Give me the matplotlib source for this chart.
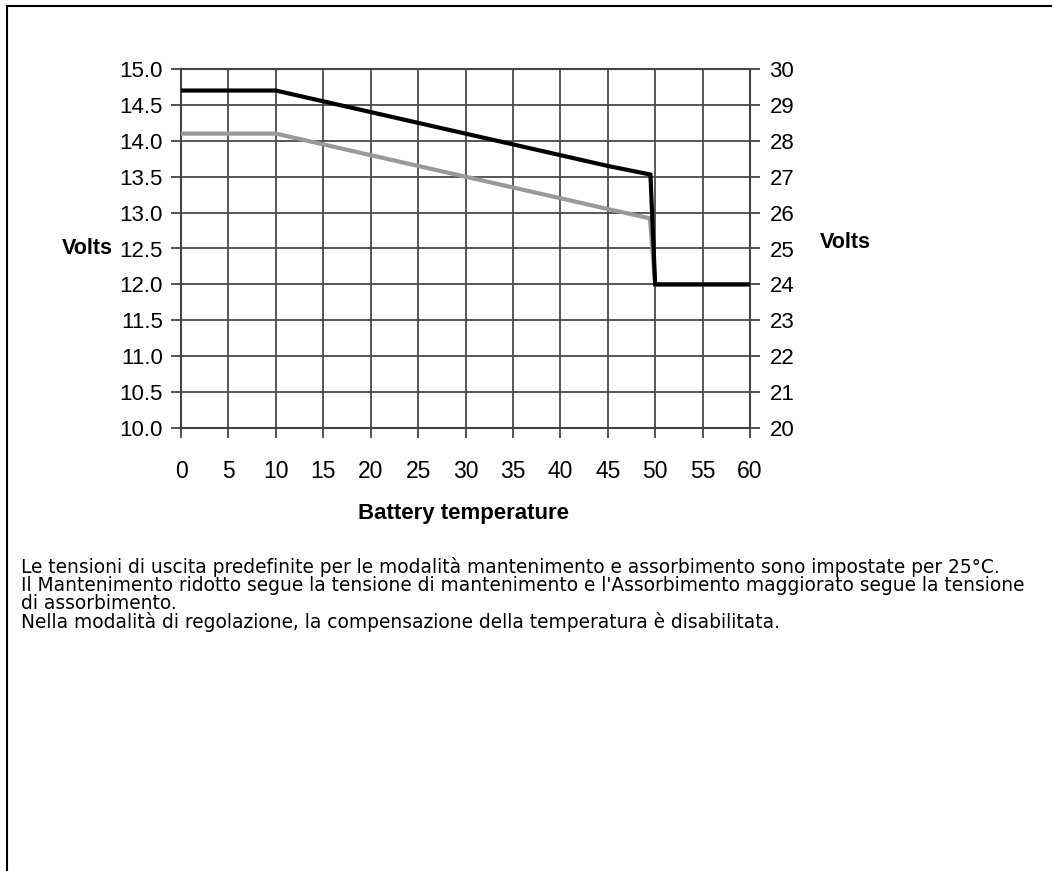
import matplotlib
matplotlib.use("Agg")
import matplotlib.pyplot as plt
from matplotlib.lines import Line2D

# ---- data ----
temp_abs = [0, 10, 15, 20, 25, 30, 35, 40, 45, 49.5, 50, 60]
volt_abs = [14.7, 14.7, 14.55, 14.4, 14.25, 14.1, 13.95, 13.8, 13.65, 13.53, 12.0, 12.0]
temp_float = [0, 10, 15, 20, 25, 30, 35, 40, 45, 49.45, 50, 60]
volt_float = [14.1, 14.1, 13.95, 13.8, 13.65, 13.5, 13.35, 13.2, 13.05, 12.92, 12.0, 12.0]
x_ticks = [0, 5, 10, 15, 20, 25, 30, 35, 40, 45, 50, 55, 60]
y_left_ticks = [10.0, 10.5, 11.0, 11.5, 12.0, 12.5, 13.0, 13.5, 14.0, 14.5, 15.0]
y_right_ticks = [20, 21, 22, 23, 24, 25, 26, 27, 28, 29, 30]
x_label = "Battery temperature"
y_label = "Volts"
notes = [
    "Le tensioni di uscita predefinite per le modalità mantenimento e assorbimento sono impostate per 25°C.",
    "Il Mantenimento ridotto segue la tensione di mantenimento e l'Assorbimento maggiorato segue la tensione",
    "di assorbimento.",
    "Nella modalità di regolazione, la compensazione della temperatura è disabilitata.",
]

plt.rcParams["font.family"] = ["Liberation Sans", "DejaVu Sans"]

W, H = 1052, 871
fig = plt.figure(figsize=(W / 100, H / 100), dpi=100)
fig.patch.set_facecolor("white")

def fx(px):
    return px / W

def fy(py):
    return 1 - py / H

L, R, T, B = 181, 750, 69, 428
ax = fig.add_axes([fx(L), fy(B), fx(R - L), (B - T) / H])
ax.set_xlim(0, 60)
ax.set_ylim(10, 15)
ax.set_xticks(x_ticks)
ax.set_yticks(y_left_ticks)
ax.set_xticklabels([str(v) for v in x_ticks], fontsize=16.5)
ax.set_yticklabels([f"{v:.1f}" for v in y_left_ticks], fontsize=16)
ax.grid(True, color="#4a4a4a", linewidth=1.3)
ax.set_axisbelow(True)
for s in ax.spines.values():
    s.set_color("#444444")
    s.set_linewidth(1.5)
ax.tick_params(axis="y", direction="out", length=7, width=1.3, color="#444444", pad=6)
ax.tick_params(axis="x", direction="out", length=7, width=1.3, color="#444444", pad=16)

ax.plot(temp_float, volt_float, color="#999999", linewidth=3, solid_joinstyle="miter", zorder=3)
ax.plot(temp_abs, volt_abs, color="black", linewidth=3, solid_joinstyle="miter", zorder=4)

ax2 = ax.twinx()
ax2.set_ylim(20, 30)
ax2.set_yticks(y_right_ticks)
ax2.set_yticklabels([str(v) for v in y_right_ticks], fontsize=16)
ax2.tick_params(axis="y", direction="out", length=7, width=1.3, color="#444444", pad=7)
for s in ax2.spines.values():
    s.set_visible(False)

fig.text(fx(87), fy(249), y_label, fontsize=15.5, fontweight="bold", ha="center", va="center")
fig.text(fx(845), fy(242), y_label, fontsize=15.5, fontweight="bold", ha="center", va="center")
fig.text(fx(464), fy(514), x_label, fontsize=16, fontweight="bold", ha="center", va="center")

# body notes: fit the first line to span from x=21 to x~1000 px
note_family = ["DejaVu Sans"]
text_objs = []
for i, line in enumerate(notes):
    t = fig.text(fx(21), fy(567 + 18.4 * i), line, fontsize=13, family=note_family,
                 ha="left", va="center")
    text_objs.append(t)
renderer = fig.canvas.get_renderer()
w0 = text_objs[0].get_window_extent(renderer).width
size = 13 * (1000 - 21) / w0
for t in text_objs:
    t.set_fontsize(size)

# outer frame (left and top)
fig.add_artist(Line2D([fx(7), fx(7)], [fy(6), 0], transform=fig.transFigure, color="black", linewidth=1.5))
fig.add_artist(Line2D([fx(7), 1], [fy(6), fy(6)], transform=fig.transFigure, color="black", linewidth=1.5))

fig.savefig("out.png", dpi=100)
